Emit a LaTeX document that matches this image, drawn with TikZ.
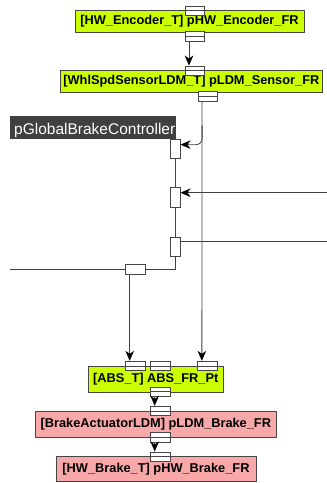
\documentclass[tikz,border=0pt]{standalone}
\usepackage{fontspec}
\setmainfont{Liberation Sans}
\usepackage{xcolor}
\usepackage{tikz}
\usetikzlibrary{arrows.meta,positioning}
\definecolor{limebox}{RGB}{204,255,0}
\definecolor{pinkbox}{RGB}{248,168,168}
\definecolor{edgegray}{RGB}{70,70,70}
\definecolor{labelgray}{RGB}{64,64,64}

\begin{document}
\begin{tikzpicture}[x=1pt, y=-1pt,
  swc/.style={draw=edgegray, line width=0.8pt, inner sep=0pt,
    font=\fontsize{12.8}{14}\selectfont\bfseries},
  limeswc/.style={swc, fill=limebox},
  pinkswc/.style={swc, fill=pinkbox},
  hport/.style={draw=edgegray, fill=white, line width=0.8pt, inner sep=0pt,
    minimum width=19.5pt, minimum height=9.5pt,
    path picture={\draw[edgegray, line width=0.8pt] (path picture bounding box.west) -- (path picture bounding box.east);}},
  pport/.style={draw=edgegray, fill=white, line width=0.8pt, inner sep=0pt},
  flow/.style={draw=black!75, line width=0.8pt},
  flowarr/.style={flow, -{Stealth[length=10pt, width=8.5pt, inset=3pt, color=black]}}]
\useasboundingbox (0,0) rectangle (327,483);
% Components
\node[limeswc, minimum width=229pt, minimum height=21.3pt] (enc) at (189.5,21.5) {[HW\_Encoder\_T] pHW\_Encoder\_FR};
\node[limeswc, minimum width=262.7pt, minimum height=21.5pt] (sen) at (191.35,81.25) {[WhlSpdSensorLDM\_T] pLDM\_Sensor\_FR};
\node[limeswc, minimum width=135pt, minimum height=26.3pt] (abs) at (155.8,379.2) {[ABS\_T] ABS\_FR\_Pt};
\node[pinkswc, minimum width=241.7pt, minimum height=26.3pt] (act) at (155.85,424.2) {[BrakeActuatorLDM] pLDM\_Brake\_FR};
\node[pinkswc, minimum width=200pt, minimum height=25pt] (hwb) at (156,469.2) {[HW\_Brake\_T] pHW\_Brake\_FR};
% Ports on the components
\node[hport] (encIn) at (194.65,10.85) {};
\node[hport] (encOut) at (194.65,36.2) {};
\node[hport] (senIn) at (194.65,70.7) {};
\node[hport] (senOut) at (207.75,96.2) {};
\node[hport] (absInA) at (135.35,366) {};
\node[hport] (absInB) at (160.35,366) {};
\node[hport] (absInC) at (207.5,366) {};
\node[hport] (absOut) at (160.35,391.8) {};
\node[hport] (actIn) at (160.35,411) {};
\node[hport] (actOut) at (160.35,437.2) {};
\node[hport] (hwbIn) at (160.35,456.7) {};
% Controller label
\node[fill=labelgray, inner sep=0pt, minimum width=165.7pt, minimum height=23.7pt, anchor=north west] (ctrl) at (10,115.3) {};
\begin{scope}
\clip (ctrl.south west) rectangle (ctrl.north east);
\node[anchor=base west, inner sep=0pt, text=white, font=\fontsize{15.5}{18}\selectfont] (ctrlText) at (14,134.7) {pGlobalBrakeController};
\end{scope}
% Controller ports
\node[pport, minimum width=9.5pt, minimum height=19.5pt] (cp1) at (175.35,148.8) {};
\node[pport, minimum width=9.5pt, minimum height=19.5pt] (cp2) at (175.35,197.5) {};
\node[pport, minimum width=9.5pt, minimum height=19.5pt] (cp3) at (175.35,246.7) {};
\node[pport, minimum width=19.5pt, minimum height=10pt] (hp) at (135.35,269.3) {};
% Free ends
\coordinate (inR) at (327,192.7);
\coordinate (outR) at (327,241.7);
\coordinate (outL) at (10,269.3);
\path ([xshift=4.5pt]senOut.south west) ++(0,24) coordinate (split);
% Connectors
\draw[flowarr] ([xshift=4.5pt]encOut.south west) -- ([xshift=4.5pt]senIn.north west);
\draw[flowarr] ([xshift=4.5pt]senOut.south west) -- ([xshift=4.5pt]absInC.north west);
\draw[flowarr, rounded corners=6pt] (split) |- ([yshift=-6pt]cp1.north east);
\draw[flowarr] (inR) -- (inR -| cp2.east);
\draw[flow] (outR -| cp3.east) -- (outR);
\draw[flow] (cp1.south) -- (cp2.north);
\draw[flow] (cp2.south) -- (cp3.north);
\draw[flow] (cp3.south) |- (hp.east);
\draw[flow] (hp.west) -- (outL);
\draw[flowarr] ([xshift=4.5pt]hp.south west) -- ([xshift=4.5pt]absInA.north west);
\draw[flowarr] ([xshift=4.5pt]absOut.south west) -- ([xshift=4.5pt]actIn.north west);
\draw[flowarr] ([xshift=4.5pt]actOut.south west) -- ([xshift=4.5pt]hwbIn.north west);
\end{tikzpicture}
\end{document}
